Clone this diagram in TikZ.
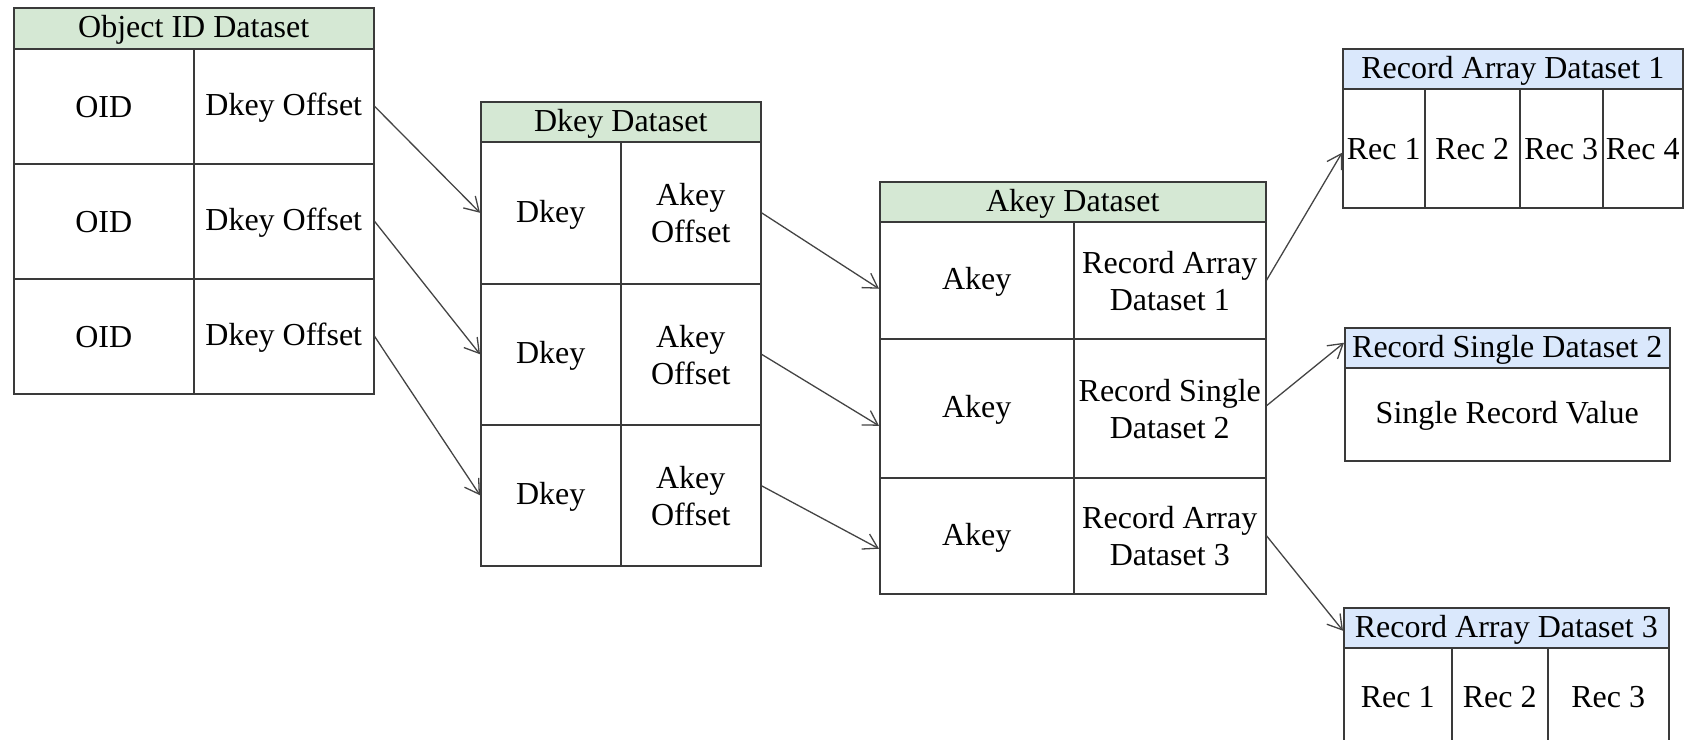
\documentclass[tikz,border=0pt]{standalone}
\usepackage{fontspec}
\setmainfont{Liberation Serif}
\usetikzlibrary{arrows.meta}
\definecolor{bordercol}{HTML}{3A3A3A}
\definecolor{greenfill}{HTML}{D5E8D4}
\definecolor{bluefill}{HTML}{DAE8FC}
\definecolor{arrowcol}{HTML}{444444}
\newcommand\tabfont{\fontsize{32}{37}\selectfont}
\newcommand\ms{\rule[-3pt]{0pt}{29pt}}
\begin{document}
\begin{tikzpicture}[x=1pt,y=-1pt,
  cell/.style={draw=bordercol, line width=1.5pt, inner sep=0pt, align=center,
    font=\tabfont, anchor=north west},
  hdrg/.style={cell, fill=greenfill},
  hdrb/.style={cell, fill=bluefill},
  link/.style={draw=arrowcol, line width=1.3pt,
    -{Straight Barb[length=14pt,width=17pt,line width=1.3pt]}}]
\useasboundingbox (0,0) rectangle (1692,739);

% ---------- Object ID Dataset ----------
\node[hdrg, minimum width=360pt, minimum height=41pt] (oh) at (13,7) {\ms Object ID Dataset};
\node[cell, minimum width=180pt, minimum height=115pt] (o1a) at (13,48) {\ms OID};
\node[cell, minimum width=180pt, minimum height=115pt] (o1b) at (193,48) {\ms Dkey Offset};
\node[cell, minimum width=180pt, minimum height=115pt] (o2a) at (13,163) {\ms OID};
\node[cell, minimum width=180pt, minimum height=115pt] (o2b) at (193,163) {\ms Dkey Offset};
\node[cell, minimum width=180pt, minimum height=115pt] (o3a) at (13,278) {\ms OID};
\node[cell, minimum width=180pt, minimum height=115pt] (o3b) at (193,278) {\ms Dkey Offset};

% ---------- Dkey Dataset ----------
\node[hdrg, minimum width=280pt, minimum height=40pt] (dh) at (480,101) {\ms Dkey Dataset};
\node[cell, minimum width=140pt, minimum height=142pt] (d1a) at (480,141) {\ms Dkey};
\node[cell, minimum width=140pt, minimum height=142pt] (d1b) at (620,141) {\ms Akey\\\ms Offset};
\node[cell, minimum width=140pt, minimum height=141pt] (d2a) at (480,283) {\ms Dkey};
\node[cell, minimum width=140pt, minimum height=141pt] (d2b) at (620,283) {\ms Akey\\\ms Offset};
\node[cell, minimum width=140pt, minimum height=141pt] (d3a) at (480,424) {\ms Dkey};
\node[cell, minimum width=140pt, minimum height=141pt] (d3b) at (620,424) {\ms Akey\\\ms Offset};

% ---------- Akey Dataset ----------
\node[hdrg, minimum width=386pt, minimum height=40pt] (ah) at (879,181) {\ms Akey Dataset};
\node[cell, minimum width=194pt, minimum height=117pt] (a1a) at (879,221) {\ms Akey};
\node[cell, minimum width=192pt, minimum height=117pt] (a1b) at (1073,221) {\ms Record Array\\\ms Dataset 1};
\node[cell, minimum width=194pt, minimum height=139pt] (a2a) at (879,338) {\ms Akey};
\node[cell, minimum width=192pt, minimum height=139pt] (a2b) at (1073,338) {\ms Record Single\\\ms Dataset 2};
\node[cell, minimum width=194pt, minimum height=116pt] (a3a) at (879,477) {\ms Akey};
\node[cell, minimum width=192pt, minimum height=116pt] (a3b) at (1073,477) {\ms Record Array\\\ms Dataset 3};

% ---------- Record Array Dataset 1 ----------
\node[hdrb, minimum width=340pt, minimum height=40pt] (r1h) at (1342,48) {\ms Record Array Dataset 1};
\node[cell, minimum width=82pt, minimum height=119pt] (r1c1) at (1342,88) {\ms Rec 1};
\node[cell, minimum width=95pt, minimum height=119pt] (r1c2) at (1424,88) {\ms Rec 2};
\node[cell, minimum width=83pt, minimum height=119pt] (r1c3) at (1519,88) {\ms Rec 3};
\node[cell, minimum width=80pt, minimum height=119pt] (r1c4) at (1602,88) {\ms Rec 4};

% ---------- Record Single Dataset 2 ----------
\node[hdrb, minimum width=325pt, minimum height=40pt] (s2h) at (1344,327) {\ms Record Single Dataset 2};
\node[cell, minimum width=325pt, minimum height=93pt] (s2v) at (1344,367) {\ms Single Record Value};

% ---------- Record Array Dataset 3 ----------
\node[hdrb, minimum width=325pt, minimum height=40pt] (r3h) at (1343,607) {\ms Record Array Dataset 3};
\node[cell, minimum width=108pt, minimum height=96pt] (r3c1) at (1343,647) {\ms Rec 1};
\node[cell, minimum width=96pt, minimum height=96pt] (r3c2) at (1451,647) {\ms Rec 2};
\node[cell, minimum width=121pt, minimum height=96pt] (r3c3) at (1547,647) {\ms Rec 3};

% ---------- connectors ----------
\draw[link] (o1b.east) -- (d1a.west);
\draw[link] (o2b.east) -- (d2a.west);
\draw[link] (o3b.east) -- (d3a.west);

\draw[link] (d1b.east) -- ([yshift=-8.5pt]a1a.west);
\draw[link] (d2b.east) -- ([yshift=-17.5pt]a2a.west);
\draw[link] ([yshift=9.5pt]d3b.east) -- ([yshift=-13pt]a3a.west);

\draw[link] (a1b.east) -- ([yshift=-4.5pt]r1c1.west);
\draw[link] ([yshift=2.5pt]a2b.east) -- ([yshift=5pt]s2h.west);
\draw[link] (a3b.east) -- ([yshift=-3pt]r3h.west);
\end{tikzpicture}
\end{document}
